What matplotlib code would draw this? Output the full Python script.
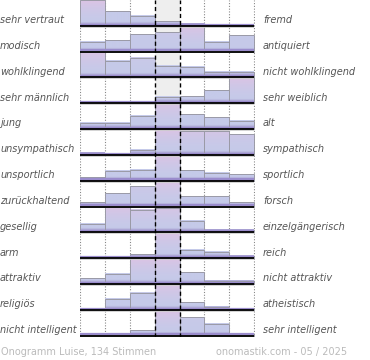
import matplotlib.pyplot as plt
import numpy as np
from matplotlib import transforms
from matplotlib.colors import to_rgb

# left / right word pairs, one row each
left_labels = ['sehr vertraut', 'modisch', 'wohlklingend', 'sehr männlich', 'jung',
               'unsympathisch', 'unsportlich', 'zurückhaltend', 'gesellig', 'arm',
               'attraktiv', 'religiös', 'nicht intelligent']
right_labels = ['fremd', 'antiquiert', 'nicht wohlklingend', 'sehr weiblich', 'alt',
                'sympathisch', 'sportlich', 'forsch', 'einzelgängerisch', 'reich',
                'nicht attraktiv', 'atheistisch', 'sehr intelligent']

# bar height per row (7 steps, scaled to the row height)
values = [
    [1.00, 0.57, 0.39, 0.19, 0.08, 0.06, 0.00],
    [0.39, 0.44, 0.68, 0.75, 1.00, 0.39, 0.64],
    [1.00, 0.64, 0.75, 0.43, 0.41, 0.21, 0.21],
    [0.00, 0.00, 0.00, 0.25, 0.27, 0.50, 1.00],
    [0.24, 0.24, 0.52, 1.00, 0.57, 0.45, 0.31],
    [0.09, 0.05, 0.21, 1.00, 0.93, 0.93, 0.81],
    [0.15, 0.39, 0.43, 1.00, 0.41, 0.31, 0.25],
    [0.16, 0.53, 0.79, 1.00, 0.41, 0.41, 0.19],
    [0.33, 1.00, 0.88, 0.95, 0.45, 0.09, 0.09],
    [0.00, 0.00, 0.15, 1.00, 0.33, 0.24, 0.09],
    [0.23, 0.39, 1.00, 1.00, 0.45, 0.12, 0.12],
    [0.00, 0.43, 0.66, 1.00, 0.29, 0.13, 0.06],
    [0.04, 0.04, 0.22, 1.00, 0.72, 0.47, 0.08],
]
footer_left = 'Onogramm Luise, 134 Stimmen'
footer_right = 'onomastik.com - 05 / 2025'

n_rows = len(values)
n_cols = 7

purple = np.array(to_rgb('#9d90c8'))
blue = np.array(to_rgb('#c5cae9'))
pink = np.array(to_rgb('#dcc3e4'))

fig = plt.figure(figsize=(3.7, 3.6), dpi=100)
ax = fig.add_axes([80 / 370, 1 - 337 / 360, 175 / 370, 337 / 360])


def bar_gradient(v):
    # colour from the top of the bar down to the baseline
    s = np.linspace(v, 0, 60)
    w_top = np.clip((v - 0.6) / 0.4, 0, 1) ** 1.5
    top = blue * (1 - w_top) + pink * w_top
    frac = np.clip(s / max(v, 1e-6), 0, 1)[:, None]
    col = blue + (top - blue) * frac ** 2
    low = np.clip((0.16 - s) / 0.13, 0, 1)[:, None]
    col = col * (1 - low) + purple * low
    return col[:, None, :]


# grey middle column
ax.axvspan(3, 4, color='#eeeeee', zorder=0, lw=0)

# dotted grid
for x in [0, 1, 2, 5, 6, 7]:
    ax.axvline(x, color='#888888', lw=0.8, ls=(0, (1, 1.5)), zorder=1)

for r in range(n_rows):
    base = r + 1
    for c in range(n_cols):
        v = values[r][c]
        if v <= 0:
            continue
        ax.imshow(bar_gradient(v), extent=[c, c + 1, base, base - v],
                  aspect='auto', interpolation='bilinear', zorder=2)
    ax.bar(np.arange(n_cols) + 0.5, [-v for v in values[r]], bottom=base, width=1,
           fill=False, edgecolor='#9a9aa6', lw=0.7, zorder=3)
    # purple strip on the baseline, then black line with shadow
    ax.plot([0, 7], [base - 0.05, base - 0.05], color='#9a8ccc', lw=1.6, zorder=3.5,
            solid_capstyle='butt')
    ax.plot([0, 7], [base + 0.03, base + 0.03], color='#cccccc', lw=1.2, zorder=3.6,
            solid_capstyle='butt')
    ax.plot([0, 7], [base, base], color='black', lw=1.3, zorder=4, solid_capstyle='butt')

# dashed middle column borders
for x in [3, 4]:
    ax.axvline(x, color='black', lw=1.0, ls=(0, (3, 2)), zorder=5)

ax.set_xlim(-0.02, 7.04)
ax.set_ylim(n_rows + 0.05, 0)
ax.axis('off')

trans = transforms.blended_transform_factory(fig.transFigure, ax.transData)
for r in range(n_rows):
    y = r + 1 - 0.22
    ax.text(0 / 370, y, left_labels[r], transform=trans, ha='left', va='center',
            fontsize=7, style='italic', color='#555555')
    ax.text(263 / 370, y, right_labels[r], transform=trans, ha='left', va='center',
            fontsize=7, style='italic', color='#555555')

fig.text(1 / 370, 1 - 352 / 360, footer_left, ha='left', va='center',
         fontsize=7, color='#bbbbbb')
fig.text(347 / 370, 1 - 352 / 360, footer_right, ha='right', va='center',
         fontsize=7, color='#bbbbbb')

fig.savefig('out.png', dpi=100)
